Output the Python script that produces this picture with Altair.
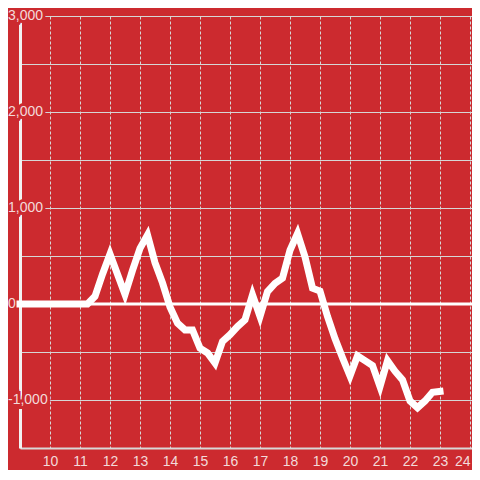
import altair as alt
import pandas as pd

hours = [9.0, 9.25, 9.5, 9.75, 10.0, 10.25, 10.5, 10.75, 11.0, 11.25,
         11.5, 11.75, 12.0, 12.25, 12.5, 12.75, 13.0, 13.25, 13.5, 13.75,
         14.0, 14.25, 14.5, 14.75, 15.0, 15.25, 15.5, 15.75, 16.0, 16.25,
         16.5, 16.75, 17.0, 17.25, 17.5, 17.75, 18.0, 18.25, 18.5, 18.75,
         19.0, 19.25, 19.5, 19.75, 20.0, 20.25, 20.5, 20.75, 21.0, 21.25,
         21.5, 21.75, 22.0, 22.25, 22.5, 22.75, 23.0]
values = [0, 0, 0, 0, 0, 0, 0, 0, 0, 0,
          80, 310, 520, 310, 100, 350, 580, 720, 430, 220,
          -30, -200, -270, -270, -460, -510, -615, -390, -320, -235,
          -165, 95, -130, 130, 215, 270, 560, 735, 490, 165,
          135, -130, -360, -560, -750, -540, -590, -640, -860, -590,
          -700, -790, -1010, -1080, -1010, -920, -910]

y_label_values = [-1000, 0, 1000, 2000, 3000]
y_label_texts = ["-1,000", "0", "1,000", "2,000", "3,000"]
y_grid_values = [-1500, -1000, -500, 0, 500, 1000, 1500, 2000, 2500, 3000]
x_tick_values = [10, 11, 12, 13, 14, 15, 16, 17, 18, 19, 20, 21, 22, 23, 24]

BG = "#cc2a2f"
LABEL = "#f3dada"
FONT = "Liberation Sans"

df = pd.DataFrame({"h": hours, "v": values})
labels = pd.DataFrame({"v": y_label_values, "t": y_label_texts})
zero_df = pd.DataFrame({"v": [0]})

x_scale = alt.Scale(domain=[9, 24.0667], nice=False, zero=False)
y_scale = alt.Scale(domain=[-1500, 3000], nice=False, zero=False)

x_axis = alt.Axis(values=x_tick_values, grid=True, gridDash=[3, 2],
                  gridColor="#d6d6d6", gridWidth=1, ticks=False,
                  domain=True, domainColor="#d8d8d8", domainWidth=2,
                  labelColor=LABEL, labelFontSize=14, labelFont=FONT,
                  labelPadding=6, labelFlush=5, format="d", title=None)
y_axis = alt.Axis(values=y_grid_values, grid=True, gridColor="#d6d6d6",
                  gridWidth=1, ticks=False, labels=False, domain=True,
                  domainColor="#f2f2f2", domainWidth=3, title=None)

Y = alt.Y("v:Q", scale=y_scale, axis=y_axis)


def label_layer(flt, align, xpos, halo):
    props = dict(align=align, baseline="middle", fontSize=14, font=FONT)
    if halo:
        props.update(color=BG, stroke=BG, strokeWidth=6)
    else:
        props.update(color=LABEL)
    return alt.Chart(labels).transform_filter(flt).mark_text(**props).encode(
        y=Y, x=alt.value(xpos), text="t:N")


halo_pos = label_layer("datum.v > 0", "right", 23, True)
halo_neg = label_layer("datum.v < 0", "left", -12, True)
text_pos = label_layer("datum.v > 0", "right", 23, False)
text_neg = label_layer("datum.v < 0", "left", -12, False)
text_zero = label_layer("datum.v == 0", "left", -12, False)

zero_rule = alt.Chart(zero_df).mark_rule(color="white", strokeWidth=3).encode(y=Y)

line = alt.Chart(df).mark_line(color="white", strokeWidth=7, strokeCap="square").encode(
    x=alt.X("h:Q", scale=x_scale, axis=x_axis), y=Y
)

chart = alt.layer(halo_pos, halo_neg, text_pos, text_neg, text_zero, zero_rule, line).properties(
    width=452, height=432, background=BG,
    padding={"left": 12, "top": 8, "right": 0, "bottom": 22},
    autosize=alt.AutoSizeParams(type="none"),
).configure_view(stroke=None)

chart.save("out.html", embed_options={"renderer": "svg", "actions": False})
